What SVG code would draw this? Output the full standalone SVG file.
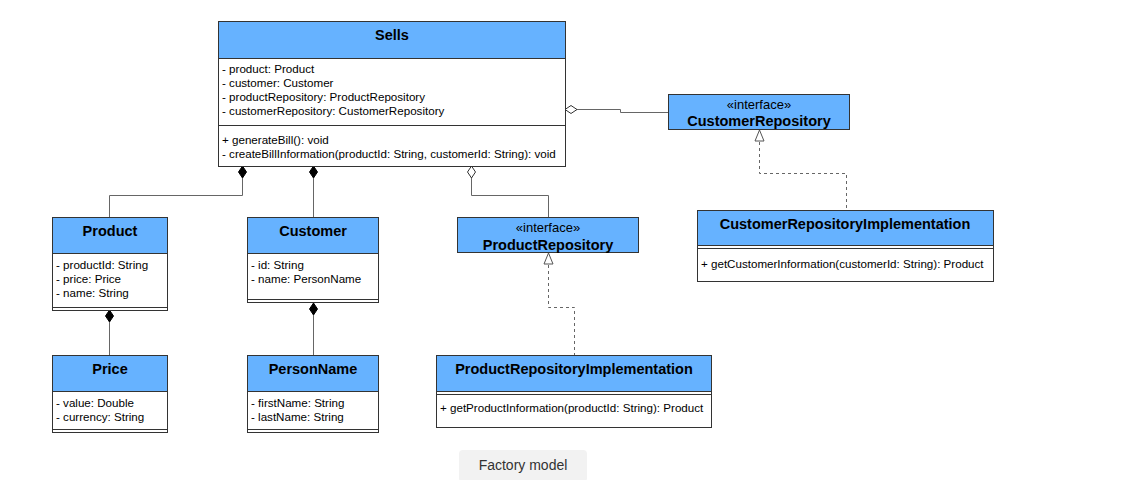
<svg xmlns="http://www.w3.org/2000/svg" width="1145" height="480" viewBox="0 0 1145 480">
<style>
.bg{fill:#ffffff}
.hd{fill:#66b2ff;stroke:#333333;stroke-width:1}
.bd{fill:#ffffff;stroke:#333333;stroke-width:1}
.sep{stroke:#333333;stroke-width:1;fill:none}
.t{font-family:"Liberation Sans",Arial,Helvetica,sans-serif;font-size:14.5px;font-weight:bold;fill:#000000;text-anchor:middle}
.st{font-family:"Liberation Sans",Arial,Helvetica,sans-serif;font-size:13px;fill:#000000;text-anchor:middle}
.a{font-family:"Liberation Sans",Arial,Helvetica,sans-serif;font-size:11.6px;fill:#000000}
.c{fill:none;stroke:#666666;stroke-width:1}
.d{fill:none;stroke:#666666;stroke-width:1;stroke-dasharray:3,3}
.cap{font-family:"Liberation Sans",Arial,Helvetica,sans-serif;font-size:14px;fill:#333333;text-anchor:middle}
</style>
<defs>
<marker id="dfill" markerUnits="userSpaceOnUse" markerWidth="14" markerHeight="12" refX="0" refY="5" orient="auto" overflow="visible">
<path d="M0,5 L6,1 L12,5 L6,9 Z" fill="#000000" stroke="#000000" stroke-width="1"/>
</marker>
<marker id="dopen" markerUnits="userSpaceOnUse" markerWidth="14" markerHeight="12" refX="0" refY="5" orient="auto" overflow="visible">
<path d="M0,5 L6,1 L12,5 L6,9 Z" fill="#ffffff" stroke="#333333" stroke-width="1"/>
</marker>
<marker id="tri" markerUnits="userSpaceOnUse" markerWidth="14" markerHeight="14" refX="0" refY="5" orient="auto" overflow="visible">
<path d="M0,5 L11,0.5 L11,9.5 Z" fill="#ffffff" stroke="#555555" stroke-width="1"/>
</marker>
</defs>
<rect class="bg" x="0" y="0" width="1145" height="480"/>

<g id="connectors">
<path class="c" d="M242.5,166 V195.5 H109.5 V217" marker-start="url(#dfill)"/>
<path class="c" d="M313.5,166 V217" marker-start="url(#dfill)"/>
<path class="c" d="M109.5,310 V355" marker-start="url(#dfill)"/>
<path class="c" d="M313.5,303 V355" marker-start="url(#dfill)"/>
<path class="c" d="M471.5,166 V195.5 H548.5 V217" marker-start="url(#dopen)"/>
<path class="c" d="M565,109.5 H620.5 V112.5 H668" marker-start="url(#dopen)"/>
<path class="d" d="M759.5,130 V173.5 H846.5 V210" marker-start="url(#tri)"/>
<path class="d" d="M548.5,253 V307.5 H574.5 V355" marker-start="url(#tri)"/>
</g>

<g id="Sells">
<rect class="bd" x="218.5" y="21.5" width="347" height="145"/>
<rect class="hd" x="218.5" y="21.5" width="347" height="37"/>
<line class="sep" x1="218.5" y1="125.5" x2="565.5" y2="125.5"/>
<text class="t" x="392" y="40">Sells</text>
<text class="a" x="222" y="73">- product: Product</text>
<text class="a" x="222" y="87">- customer: Customer</text>
<text class="a" x="222" y="101">- productRepository: ProductRepository</text>
<text class="a" x="222" y="115">- customerRepository: CustomerRepository</text>
<text class="a" x="222" y="144">+ generateBill(): void</text>
<text class="a" x="222" y="158">- createBillInformation(productId: String, customerId: String): void</text>
</g>

<g id="Product">
<rect class="bd" x="52.5" y="217.5" width="115" height="93"/>
<rect class="hd" x="52.5" y="217.5" width="115" height="36"/>
<line class="sep" x1="52.5" y1="307.5" x2="167.5" y2="307.5"/>
<text class="t" x="110" y="236">Product</text>
<text class="a" x="56" y="269">- productId: String</text>
<text class="a" x="56" y="283">- price: Price</text>
<text class="a" x="56" y="297">- name: String</text>
</g>

<g id="Customer">
<rect class="bd" x="247.5" y="217.5" width="131" height="85"/>
<rect class="hd" x="247.5" y="217.5" width="131" height="36"/>
<line class="sep" x1="247.5" y1="299.5" x2="378.5" y2="299.5"/>
<text class="t" x="313" y="236">Customer</text>
<text class="a" x="251" y="269">- id: String</text>
<text class="a" x="251" y="283">- name: PersonName</text>
</g>

<g id="Price">
<rect class="bd" x="52.5" y="355.5" width="115" height="77"/>
<rect class="hd" x="52.5" y="355.5" width="115" height="36"/>
<line class="sep" x1="52.5" y1="429.5" x2="167.5" y2="429.5"/>
<text class="t" x="110" y="374">Price</text>
<text class="a" x="56" y="407">- value: Double</text>
<text class="a" x="56" y="421">- currency: String</text>
</g>

<g id="PersonName">
<rect class="bd" x="247.5" y="355.5" width="131" height="77"/>
<rect class="hd" x="247.5" y="355.5" width="131" height="36"/>
<line class="sep" x1="247.5" y1="429.5" x2="378.5" y2="429.5"/>
<text class="t" x="313" y="374">PersonName</text>
<text class="a" x="251" y="407">- firstName: String</text>
<text class="a" x="251" y="421">- lastName: String</text>
</g>

<g id="CustomerRepository">
<rect class="hd" x="668.5" y="94.5" width="181" height="35"/>
<text class="st" x="759" y="109">«interface»</text>
<text class="t" x="759" y="126">CustomerRepository</text>
</g>

<g id="ProductRepository">
<rect class="hd" x="457.5" y="217.5" width="181" height="35"/>
<text class="st" x="548" y="232">«interface»</text>
<text class="t" x="548" y="250">ProductRepository</text>
</g>

<g id="CustomerRepositoryImplementation">
<rect class="bd" x="697.5" y="210.5" width="296" height="71"/>
<rect class="hd" x="697.5" y="210.5" width="296" height="35"/>
<line class="sep" x1="697.5" y1="248.5" x2="993.5" y2="248.5"/>
<text class="t" x="845" y="229">CustomerRepositoryImplementation</text>
<text class="a" x="701" y="268">+ getCustomerInformation(customerId: String): Product</text>
</g>

<g id="ProductRepositoryImplementation">
<rect class="bd" x="436.5" y="355.5" width="275" height="72"/>
<rect class="hd" x="436.5" y="355.5" width="275" height="36"/>
<line class="sep" x1="436.5" y1="394.5" x2="711.5" y2="394.5"/>
<text class="t" x="574" y="374">ProductRepositoryImplementation</text>
<text class="a" x="440" y="412">+ getProductInformation(productId: String): Product</text>
</g>

<g id="caption">
<rect x="459" y="450" width="128" height="32" rx="4" fill="#f2f2f2"/>
<text class="cap" x="523" y="470">Factory model</text>
</g>
</svg>
